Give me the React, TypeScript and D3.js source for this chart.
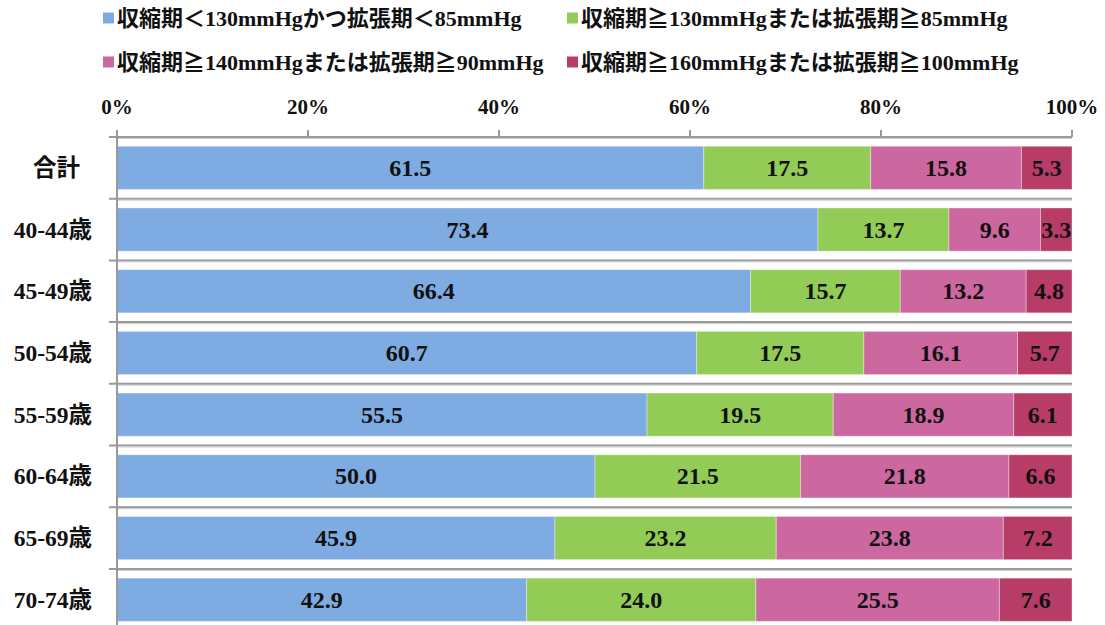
import React from "react";
import * as d3 from "d3";

const categories = ["合計", "40-44歳", "45-49歳", "50-54歳", "55-59歳", "60-64歳", "65-69歳", "70-74歳"];
const seriesNames = [
  "収縮期＜130mmHgかつ拡張期＜85mmHg",
  "収縮期≧130mmHgまたは拡張期≧85mmHg",
  "収縮期≧140mmHgまたは拡張期≧90mmHg",
  "収縮期≧160mmHgまたは拡張期≧100mmHg",
];
const normal = [61.5, 73.4, 66.4, 60.7, 55.5, 50.0, 45.9, 42.9];
const high130 = [17.5, 13.7, 15.7, 17.5, 19.5, 21.5, 23.2, 24.0];
const high140 = [15.8, 9.6, 13.2, 16.1, 18.9, 21.8, 23.8, 25.5];
const high160 = [5.3, 3.3, 4.8, 5.7, 6.1, 6.6, 7.2, 7.6];
const tickValues = [0, 20, 40, 60, 80, 100];
const colors = ["#7eabe1", "#92cc56", "#cc67a0", "#b83c68"];

const W = 1105;
const H = 625;
const FONT = "'Liberation Serif', 'Noto Sans CJK JP', serif";

export default function App() {
  const series = [normal, high130, high140, high160];
  const left = 117;
  const right = 1072;
  const top = 137;
  const band = 61.7;
  const x = d3.scaleLinear().domain([0, 100]).range([left, right]);
  const y = d3
    .scaleBand<string>()
    .domain(categories)
    .range([top, top + band * categories.length])
    .paddingInner(0.3)
    .paddingOuter(0.15);

  const rows = categories.map((c, i) => {
    const vals = series.map((s) => s[i]);
    const total = d3.sum(vals);
    let acc = 0;
    return vals.map((v, k) => {
      const x0 = (acc / total) * 100;
      acc += v;
      const x1 = (acc / total) * 100;
      return { c, v, k, x0, x1 };
    });
  });

  const legendPos = [
    { x: 103, y: 18 },
    { x: 567, y: 18 },
    { x: 103, y: 62 },
    { x: 567, y: 62 },
  ];

  const sepYs = d3.range(categories.length + 1).map((i) => top + i * band);

  return (
    <svg
      width={W}
      height={H}
      style={{ position: "absolute", left: 0, top: 0, background: "#fff" }}
      fontFamily={FONT}
      fontWeight="bold"
    >
      {/* legend */}
      {seriesNames.map((n, i) => (
        <g key={n} transform={`translate(${legendPos[i].x},${legendPos[i].y})`}>
          <rect x={0} y={-5.5} width={11} height={11} fill={colors[i]} />
          <text x={14} y={0} dominantBaseline="central" fontSize={22} fill="#111">
            {n}
          </text>
        </g>
      ))}

      {/* top axis */}
      {tickValues.map((t) => (
        <g key={t}>
          <line x1={x(t)} x2={x(t)} y1={top - 7} y2={top} stroke="#999" strokeWidth={2} />
          <text x={x(t)} y={114} textAnchor="middle" fontSize={21} fill="#111">
            {t}%
          </text>
        </g>
      ))}

      {/* separators */}
      {sepYs.map((sy, i) => (
        <g key={i}>
          <line x1={left - 8} x2={right} y1={sy} y2={sy} stroke="#999" strokeWidth={2} />
          <line x1={left} x2={right} y1={sy + 1.5} y2={sy + 1.5} stroke="#ccc" strokeWidth={1} />
        </g>
      ))}

      {/* bars */}
      {rows.map((r) =>
        r.map((s) => (
          <g key={s.c + s.k}>
            <rect
              x={x(s.x0)}
              y={y(s.c)!}
              width={x(s.x1) - x(s.x0)}
              height={y.bandwidth()}
              fill={colors[s.k]}
              stroke="#ffffff"
              strokeOpacity={0.35}
              strokeWidth={1}
            />
            <text
              x={(x(s.x0) + x(s.x1)) / 2}
              y={y(s.c)! + y.bandwidth() / 2}
              dominantBaseline="central"
              textAnchor="middle"
              fontSize={24}
              fill="#111"
            >
              {s.v.toFixed(1)}
            </text>
          </g>
        ))
      )}

      {/* left axis */}
      <line x1={left} x2={left} y1={top - 7} y2={H} stroke="#999" strokeWidth={2} />

      {/* category labels */}
      {categories.map((c, i) => (
        <text
          key={c}
          x={i === 0 ? 80 : 92}
          y={y(c)! + y.bandwidth() / 2}
          dominantBaseline="central"
          textAnchor="end"
          fontSize={23.5}
          fill="#111"
        >
          {c}
        </text>
      ))}
    </svg>
  );
}
